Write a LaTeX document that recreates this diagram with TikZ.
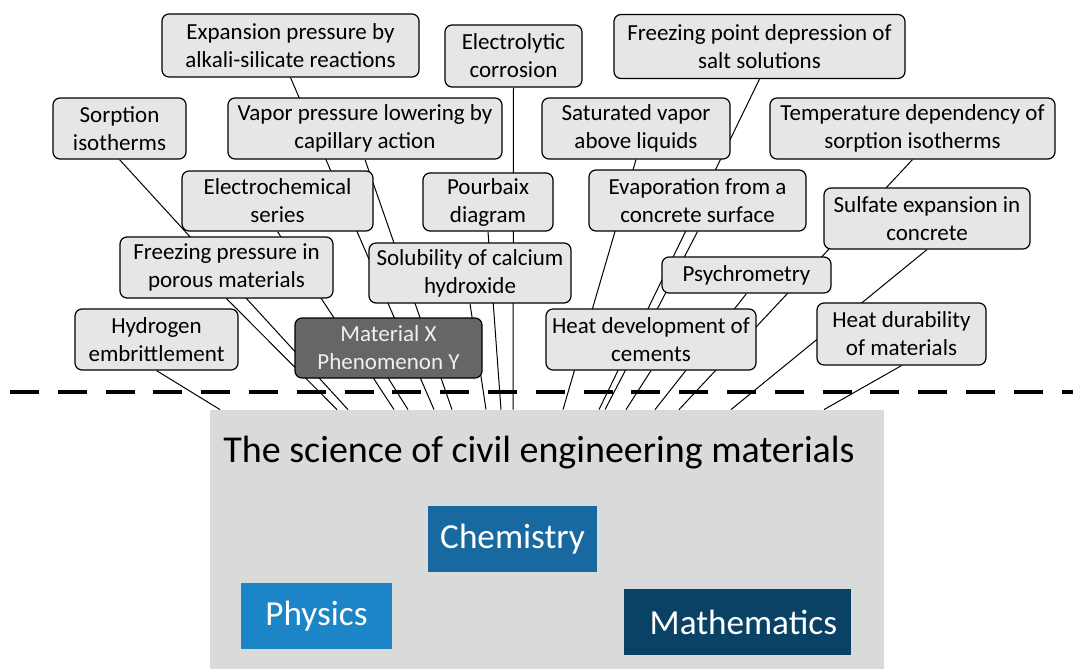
\documentclass[tikz,border=0pt]{standalone}
\usepackage{fontspec}
\setmainfont{Carlito}
\usepackage{xcolor}
\usepackage{tikz}
\usetikzlibrary{backgrounds}

\definecolor{boxgray}{HTML}{E6E6E6}
\definecolor{scigray}{HTML}{D9DBDA}
\definecolor{matgray}{HTML}{666666}
\definecolor{chemblue}{HTML}{17699F}
\definecolor{physblue}{HTML}{1B85C7}
\definecolor{mathblue}{HTML}{0A4266}

\tikzset{
  wh/.style 2 args={minimum width=#1*0.5pt, minimum height=#2*0.5pt},
  topic/.style={draw=black, fill=boxgray, rounded corners=3.5pt, line width=0.6pt,
    inner sep=0pt, align=center, font=\fontsize{11.5}{14}\selectfont},
  field/.style={inner sep=0pt, text=white, font=\fontsize{17.6}{20}\selectfont},
  link/.style={line width=0.5pt},
}

\begin{document}
\begin{tikzpicture}[x=0.5pt, y=-0.5pt]
\useasboundingbox (0,0) rectangle (1073,669);

\node[topic, wh={133}{61}] (sorp) at (119.5,128.5) {Sorption\\isotherms};
\node[topic, wh={257}{63}] (expan) at (290.5,45.5) {Expansion pressure by\\alkali-silicate reactions};
\node[topic, wh={137}{62}] (elytic) at (513.5,56) {Electrolytic\\corrosion};
\node[topic, wh={291}{64}] (frzpt) at (759.5,46.5) {Freezing point depression of\\salt solutions};
\node[topic, wh={274}{61}] (vapor) at (365,128.5) {Vapor pressure lowering by\\capillary action};
\node[topic, wh={188}{61}] (satvap) at (636,128.5) {Saturated vapor\\above liquids};
\node[topic, wh={285}{61}] (tempdep) at (912.5,128.5) {Temperature dependency of\\sorption isotherms};
\node[topic, wh={191}{60}] (echem) at (277.5,201) {Electrochemical\\series};
\node[topic, wh={130}{58}] (pourb) at (488,202) {Pourbaix\\diagram};
\node[topic, wh={217}{61}] (evap) at (697.5,200.5) {Evaporation from a\\concrete surface};
\node[topic, wh={206}{61}] (sulf) at (927,218.5) {Sulfate expansion in\\concrete};
\node[topic, wh={213}{61}] (frzpr) at (226.5,267.5) {Freezing pressure in\\porous materials};
\node[topic, wh={202}{60}] (solub) at (470,273) {Solubility of calcium\\hydroxide};
\node[topic, wh={169}{36}] (psych) at (746.5,275) {Psychrometry};
\node[topic, wh={163}{61}] (hydro) at (156.5,339.5) {Hydrogen\\embrittlement};
\node[topic, wh={187}{60}, fill=matgray, text=white!94!black] (matx) at (388.5,348) {Material X\\Phenomenon Y};
\node[topic, wh={210}{61}] (heatdev) at (651,339.5) {Heat development of\\cements};
\node[topic, wh={169}{62}] (heatdur) at (901.5,334) {Heat durability\\of materials};

\node[fill=scigray, wh={674}{259}, inner sep=0pt] (sci) at (547,539.5) {};
\node[anchor=base west, inner sep=0pt, font=\fontsize{19}{23}\selectfont] (title) at (223,462) {The science of civil engineering materials};
\node[field, fill=chemblue, wh={169}{66}] (chem) at (512.5,539) {Chemistry};
\node[field, fill=physblue, wh={151}{66}] (phys) at (316.5,616) {Physics};
\node[field, fill=mathblue, wh={227}{66}, text width=113.5pt, align=right] (maths) at (737.5,622) {Mathematics\hspace*{7pt}};

\begin{scope}[on background layer]
\foreach \n/\x in {hydro/220, frzpr/337, sorp/348, echem/394, matx/408, expan/434,
  vapor/452, solub/486, pourb/501, elytic/513, satvap/563, frzpt/599, evap/605,
  heatdev/626, psych/655, tempdep/679, sulf/731, heatdur/824} {
\draw[link] (\n.south) -- (\x,0 |- sci.north);
}
\end{scope}

\draw[line width=1.6pt, dash pattern=on 14.5pt off 9.4pt] (10,392) -- (1073,392);

\end{tikzpicture}
\end{document}
